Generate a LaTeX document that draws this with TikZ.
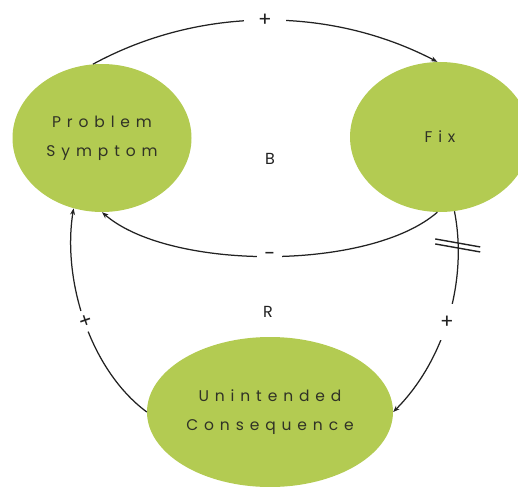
\documentclass[tikz,border=0pt]{standalone}
\usepackage{fontspec}
\setmainfont{Poppins}
\newfontfamily\spacedfont[LetterSpace=38]{Poppins}
\usetikzlibrary{shapes.geometric,arrows.meta}
\definecolor{leaf}{RGB}{179,203,82}
\definecolor{ink}{RGB}{34,34,34}
\definecolor{caption}{RGB}{48,50,38}
\begin{document}
\begin{tikzpicture}[x=1pt,y=-1pt,
  loopnode/.style={ellipse, fill=leaf, inner sep=0pt, text=caption, align=center,
    font=\spacedfont\fontsize{15.5}{29}\selectfont},
  link/.style={draw=ink, line width=1.25pt, -{Stealth[length=6.5pt,width=5pt]}},
  polarity/.style={fill=white, inner sep=1pt, text=ink, font=\fontsize{20}{20}\selectfont},
  looptag/.style={text=ink, font=\fontsize{16}{16}\selectfont},
  delaymark/.style={draw=ink, line width=1.4pt}]
\useasboundingbox (0,0) rectangle (518,486);
\clip (0,0) rectangle (518,486);

% variables
\node[loopnode, minimum width=179pt, minimum height=148pt] (ps) at (102,138) {Problem\\Symptom};
\node[loopnode, minimum width=180pt, minimum height=150pt] (fx) at (440,137) {Fix};
\node[loopnode, minimum width=246pt, minimum height=150pt] (uc) at (270,412) {Unintended\\Consequence};

% loop names
\node[looptag] (b) at (270,159) {B};
\node[looptag] (r) at (268,312) {R};

% balancing loop
\draw[link] (ps.97) .. controls (200,6) and (330,6)
  .. node[polarity, inner xsep=14pt] {+} (fx.92);
\draw[link] (fx.268) .. controls (370,271) and (170,271)
  .. node[polarity, inner xsep=7pt] {-} (ps.south);

% reinforcing loop
\draw[link] (fx.281) .. controls (468,280) and (445,360)
  .. coordinate[pos=0.16] (dm) node[polarity, pos=0.52, inner ysep=12pt] {+} (uc.east);
\draw[link] (uc.west) .. controls (90,370) and (62,280)
  .. node[polarity, sloped, inner xsep=4pt, inner ysep=0pt] {+} (ps.248);

% delay on the side effect
\draw[delaymark] ([shift={(-23,-6)}]dm) -- ([shift={(22,2)}]dm);
\draw[delaymark] ([shift={(-23,-1)}]dm) -- ([shift={(22,7)}]dm);
\end{tikzpicture}
\end{document}
